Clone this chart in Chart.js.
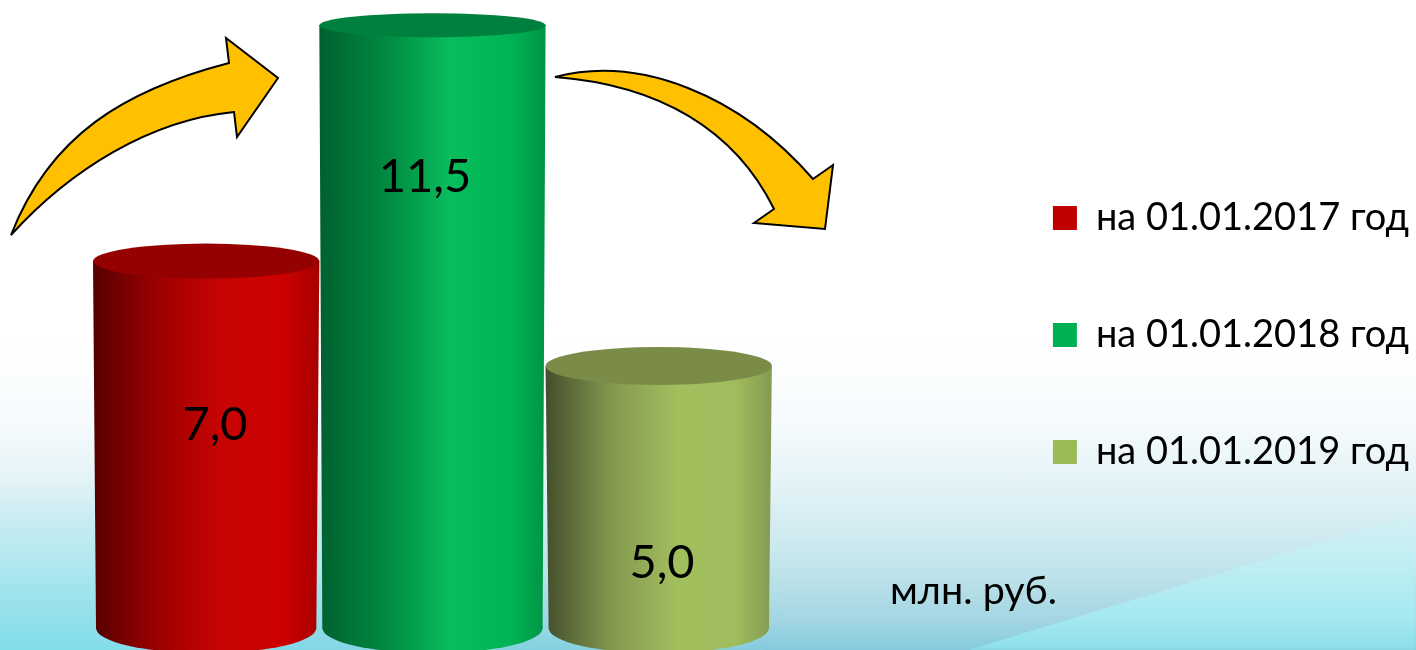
<!DOCTYPE html>
<html>
<head>
<meta charset="utf-8">
<style>
html, body { margin: 0; padding: 0; width: 1416px; height: 650px; overflow: hidden; }
body {
    position: relative;
    background: linear-gradient(180deg, #ffffff 0, #ffffff 340px, #f7fbfd 420px, #e1f2f6 490px, #c6e6ed 560px, #a3d6e2 620px, #85cbdd 650px);
}
body::before {
    content: '';
    position: absolute;
    left: 0; top: 0; width: 1416px; height: 650px;
    background: linear-gradient(180deg, #d6f1f5 510px, #bdeef3 570px, #a4e8f0 620px, #8ce0ea 650px);
    clip-path: polygon(962px 652px, 1418px 513px, 1418px 652px);
    filter: blur(2px);
}
body::after {
    content: '';
    position: absolute;
    left: 0; top: 0; width: 1416px; height: 650px;
    background: linear-gradient(180deg, rgba(150,235,243,0) 480px, rgba(150,235,243,0.45) 570px, rgba(130,228,238,0.75) 650px);
    -webkit-mask-image: linear-gradient(90deg, #000 0, #000 100px, transparent 780px);
    mask-image: linear-gradient(90deg, #000 0, #000 100px, transparent 780px);
}
canvas { display: block; position: relative; z-index: 1; }
</style>
</head>
<body>
<canvas id="chart" width="1416" height="650"></canvas>
<script src="https://cdn.jsdelivr.net/npm/chart.js@4"></script>
<script>
const categories = ['на 01.01.2017 год', 'на 01.01.2018 год', 'на 01.01.2019 год'];
const values = [7.0, 11.5, 5.0];
const legendColors = ['#C00000', '#00B050', '#9BBB59'];
const unitLabel = 'млн. руб.';

const FONT = 'Lato, "Open Sans", sans-serif';

// side shading of each cylinder, left to right
const sideStops = [
    ['#560000', '#a00000', '#c80404', '#cc0000', '#a80000'],
    ['#006030', '#008a42', '#08bd5c', '#00b455', '#009445'],
    ['#454f2c', '#84994f', '#a2bf5e', '#a0bc5c', '#849a50']
];
const capColors = ['#950000', '#00803e', '#7a8c48'];
const capRadiusY = [17.5, 12, 19];
const baseRadiusY = 25;
const labelCenters = [[215, 425], [425, 177], [662, 563]];

function sideGradient(ctx, x, width, index) {
    const grad = ctx.createLinearGradient(x - width / 2, 0, x + width / 2, 0);
    const offsets = [0, 0.3, 0.58, 0.84, 1];
    sideStops[index].forEach((color, i) => grad.addColorStop(offsets[i], color));
    return grad;
}

const cylinders = {
    id: 'cylinders',
    afterLayout(chart) {
        chart.legend.left += 3;
        chart.legend.right += 3;
    },
    beforeDatasetsDraw(chart) {
        const { ctx } = chart;
        chart.getDatasetMeta(0).data.forEach((bar, i) => {
            ctx.save();
            ctx.fillStyle = sideGradient(ctx, bar.x, bar.width, i);
            ctx.beginPath();
            ctx.ellipse(bar.x, bar.base, bar.width / 2 - 3, baseRadiusY, 0, 0, Math.PI * 2);
            ctx.fill();
            ctx.restore();
        });
    },
    beforeDatasetDraw(chart) {
        // sides lean in slightly towards the base
        const { ctx } = chart;
        ctx.save();
        ctx.beginPath();
        chart.getDatasetMeta(0).data.forEach((bar) => {
            const half = bar.width / 2;
            ctx.moveTo(bar.x - half, bar.y);
            ctx.lineTo(bar.x + half, bar.y);
            ctx.lineTo(bar.x + half - 3, bar.base);
            ctx.lineTo(bar.x - half + 3, bar.base);
            ctx.closePath();
        });
        ctx.clip();
    },
    afterDatasetDraw(chart) {
        const { ctx } = chart;
        ctx.restore();
        chart.getDatasetMeta(0).data.forEach((bar, i) => {
            ctx.fillStyle = capColors[i];
            ctx.beginPath();
            ctx.ellipse(bar.x, bar.y, bar.width / 2, capRadiusY[i], 0, 0, Math.PI * 2);
            ctx.fill();
        });
    },
    afterDraw(chart) {
        const { ctx } = chart;
        ctx.save();
        ctx.fillStyle = '#000';
        ctx.textAlign = 'center';
        ctx.textBaseline = 'middle';
        ctx.font = '47px ' + FONT;
        values.forEach((value, i) => {
            ctx.fillText(value.toFixed(1).replace('.', ','), labelCenters[i][0], labelCenters[i][1]);
        });
        ctx.font = '39.5px ' + FONT;
        ctx.textAlign = 'left';
        ctx.fillText(unitLabel, 890, 591);

        ctx.fillStyle = '#FFC000';
        ctx.strokeStyle = '#000';
        ctx.lineWidth = 2;
        ctx.miterLimit = 3;

        ctx.beginPath();
        ctx.moveTo(11, 235);
        ctx.bezierCurveTo(50, 135, 125, 90, 229, 63);
        ctx.lineTo(226, 38);
        ctx.lineTo(278, 78);
        ctx.lineTo(237, 137);
        ctx.lineTo(234, 112);
        ctx.bezierCurveTo(150, 120, 70, 170, 11, 235);
        ctx.closePath();
        ctx.fill();
        ctx.stroke();

        ctx.beginPath();
        ctx.moveTo(555, 77);
        ctx.bezierCurveTo(640, 55, 740, 95, 813, 179);
        ctx.lineTo(833, 165);
        ctx.lineTo(825, 229);
        ctx.lineTo(754, 223);
        ctx.lineTo(774, 209);
        ctx.bezierCurveTo(735, 130, 660, 85, 555, 77);
        ctx.closePath();
        ctx.fill();
        ctx.stroke();
        ctx.restore();
    }
};

new Chart(document.getElementById('chart'), {
    type: 'bar',
    data: {
        labels: categories,
        datasets: [{
            data: values,
            backgroundColor: (c) => {
                const { chart, dataIndex } = c;
                if (!chart.chartArea) {
                    return legendColors[dataIndex];
                }
                const width = chart.chartArea.width / categories.length;
                return sideGradient(chart.ctx, chart.scales.x.getPixelForValue(dataIndex), width, dataIndex);
            },
            barPercentage: 1,
            categoryPercentage: 1,
            borderWidth: 0
        }]
    },
    options: {
        responsive: false,
        animation: false,
        layout: { padding: { left: 93, top: 20 } },
        plugins: {
            tooltip: { enabled: false },
            legend: {
                position: 'right',
                maxWidth: 500,
                labels: {
                    boxWidth: 24,
                    boxHeight: 24,
                    padding: 79,
                    color: '#000',
                    font: { family: FONT, size: 38 },
                    generateLabels: () => categories.map((text, i) => ({
                        text,
                        fillStyle: legendColors[i],
                        strokeStyle: legendColors[i],
                        lineWidth: 0,
                        index: i
                    }))
                }
            }
        },
        scales: {
            x: {
                grid: { display: false },
                border: { display: false },
                ticks: { display: false },
                afterFit: (scale) => { scale.height = 22; }
            },
            y: { display: false, min: 0, max: 11.6 },
            spacer: {
                type: 'linear',
                position: 'right',
                grid: { display: false },
                border: { display: false },
                ticks: { display: false },
                afterFit: (scale) => { scale.width = 199; }
            }
        }
    },
    plugins: [cylinders]
});
</script>
</body>
</html>
